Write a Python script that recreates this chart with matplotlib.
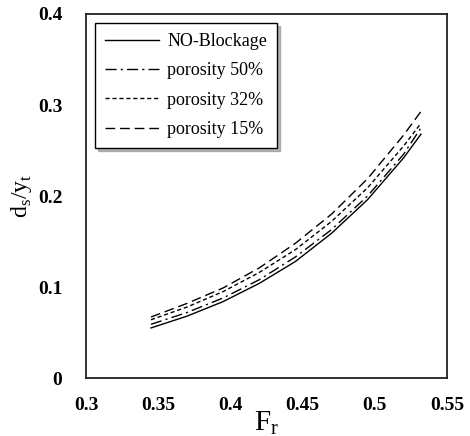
import numpy as np
import matplotlib
matplotlib.use('Agg')
import matplotlib.pyplot as plt

plt.rcParams['font.family'] = ['Liberation Serif', 'DejaVu Serif']

# Froude number and relative scour depth
fr = [0.345, 0.37, 0.395, 0.42, 0.445, 0.47, 0.495, 0.52, 0.532]
no_blockage = [0.055, 0.068, 0.084, 0.104, 0.128, 0.159, 0.196, 0.242, 0.268]
porosity_50 = [0.059, 0.072, 0.088, 0.108, 0.133, 0.163, 0.200, 0.246, 0.275]
porosity_32 = [0.064, 0.078, 0.095, 0.116, 0.141, 0.172, 0.209, 0.255, 0.280]
porosity_15 = [0.067, 0.082, 0.099, 0.121, 0.148, 0.180, 0.219, 0.267, 0.293]

xticks = [0.3, 0.35, 0.4, 0.45, 0.5, 0.55]
xticklabels = ['0.3', '0.35', '0.4', '0.45', '0.5', '0.55']
yticks = [0, 0.1, 0.2, 0.3, 0.4]
yticklabels = ['0', '0.1', '0.2', '0.3', '0.4']

fig = plt.figure(figsize=(4.7, 4.36), dpi=100)
ax = fig.add_axes([86/470, 1-378/436, 361/470, 364/436])

ax.plot(fr, no_blockage, color='black', lw=1.0, ls='-', label='NO-Blockage')
ax.plot(fr, porosity_50, color='black', lw=1.0, ls=(0, (8, 3, 1.5, 3)), label='porosity 50%')
ax.plot(fr, porosity_32, color='black', lw=1.0, ls=(0, (3, 2)), label='porosity 32%')
ax.plot(fr, porosity_15, color='black', lw=1.0, ls=(0, (7, 3.5)), label='porosity 15%')

ax.set_xlim(0.3, 0.55)
ax.set_ylim(0, 0.4)
ax.set_xticks(xticks)
ax.set_xticklabels(xticklabels, fontsize=14, fontweight='bold')
ax.set_yticks(yticks)
ax.set_yticklabels(yticklabels, fontsize=14, fontweight='bold')
ax.tick_params(length=0)
ax.tick_params(axis='x', pad=14)
ax.tick_params(axis='y', pad=17)

for s in ax.spines.values():
    s.set_linewidth(1.3)
    s.set_color('#222222')

ax.set_xlabel(r'F$_\mathregular{r}$', fontsize=21, labelpad=-4)
ax.set_ylabel(r'd$_\mathregular{s}$/y$_\mathregular{t}$', fontsize=17, labelpad=3)

leg = ax.legend(loc='upper left', bbox_to_anchor=(0.025, 0.975), borderaxespad=0,
                fontsize=13, handlelength=3.0, handletextpad=0.45, labelspacing=0.68,
                fancybox=False, shadow={'color': '#888888', 'alpha': 0.6},
                edgecolor='black', framealpha=1, borderpad=0.55)
leg.get_frame().set_linewidth(1.0)

fig.savefig('out.png', dpi=100)
